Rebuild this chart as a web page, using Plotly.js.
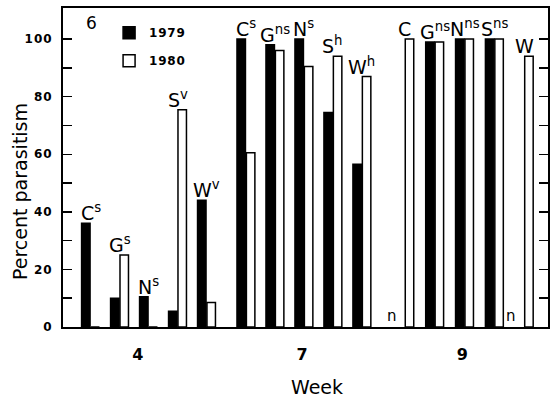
<!DOCTYPE html>
<html>
<head>
<meta charset="utf-8">
<script src="https://cdn.plot.ly/plotly-3.0.1.min.js"></script>
<style>
html,body{margin:0;padding:0;background:#fff;}
#chart{width:551px;height:400px;}
#chart .ytick text{letter-spacing:1px;}
#chart .xtick text{letter-spacing:1px;}
#chart .legendtext{letter-spacing:0.8px;}
</style>
</head>
<body>
<div id="chart"></div>
<script>
// ---- data ----
const weeks = ['4', '7', '9'];
const treatmentLetters = [
  ['C', 'G', 'N', 'S', 'W'],
  ['C', 'G', 'N', 'S', 'W'],
  ['C', 'G', 'N', 'S', 'W']
];
const treatmentSups = [
  ['s', 's', 's', 'v', 'v'],
  ['s', 'ns', 's', 'h', 'h'],
  ['', 'ns', 'ns', 'ns', '']
];
const pct1979 = [
  [36, 10, 10.5, 5.5, 44],
  [100, 98, 100, 74.5, 56.5],
  [null, 99, 100, 100, null]
];
const pct1980 = [
  [0, 25, 0, 75.5, 8.5],
  [60.5, 96, 90.5, 94, 87],
  [100, 99, 100, 100, 94]
];
const seriesNames = ['1979', '1980'];
const panelLabel = '6';
const missingMark = 'n';
const xTitle = 'Week';
const yTitle = 'Percent parasitism';
const yMajorTicks = [0, 20, 40, 60, 80, 100];
const yMinorTicks = [10, 30, 50, 70, 90];

// ---- layout helpers (positions, not data) ----
const weekStart = [0, 5.36, 10.84];
const weekStep = [1, 1, 1.03];
const weekTickOffset = [1.65, 1.95, 2.0];
const missingOffset = 0.45;

const xs = [], y79 = [], y80 = [], annotations = [];
const FONT = 'DejaVu Sans, Arial, sans-serif';
weeks.forEach((w, wi) => {
  treatmentLetters[wi].forEach((L, ti) => {
    const x = weekStart[wi] + ti * weekStep[wi];
    xs.push(x);
    const a = pct1979[wi][ti], b = pct1980[wi][ti];
    y79.push(a); y80.push(b);
    const top = Math.max(a == null ? 0 : a, b == null ? 0 : b);
    const sup = treatmentSups[wi][ti];
    annotations.push({
      x: x, y: top, xref: 'x', yref: 'y', xanchor: 'center', yanchor: 'bottom',
      text: L + (sup ? '<sup>' + sup + '</sup>' : ''), showarrow: false,
      font: {family: FONT, size: 19, color: '#000'}, yshift: -3
    });
    if (a == null) annotations.push({
      x: x - missingOffset, y: 0, xref: 'x', yref: 'y', xanchor: 'center', yanchor: 'bottom',
      text: missingMark, showarrow: false, font: {family: FONT, size: 15, color: '#000'}
    });
    if (b == null) annotations.push({
      x: x + missingOffset, y: 0, xref: 'x', yref: 'y', xanchor: 'center', yanchor: 'bottom',
      text: missingMark, showarrow: false, font: {family: FONT, size: 15, color: '#000'}
    });
  });
});
annotations.push({
  x: 0.059, y: 0.953, xref: 'paper', yref: 'paper', xanchor: 'center', yanchor: 'middle',
  text: panelLabel, showarrow: false, font: {family: FONT, size: 17, color: '#000'}
});
// axis titles placed where the reference has them
annotations.push({
  x: 0.5237, y: -0.188, xref: 'paper', yref: 'paper', xanchor: 'center', yanchor: 'middle',
  text: xTitle, showarrow: false, font: {family: FONT, size: 19, color: '#000'}
});
annotations.push({
  x: -0.0887, y: 0.4263, xref: 'paper', yref: 'paper', xanchor: 'center', yanchor: 'middle',
  text: yTitle, textangle: -90, showarrow: false, font: {family: FONT, size: 19, color: '#000'}
});

const tickvalsX = weeks.map((w, i) => weekStart[i] + weekTickOffset[i]);

const traces = [
  {type: 'bar', name: seriesNames[0], x: xs, y: y79, legendgroup: 'a',
   marker: {color: '#000', line: {color: '#000', width: 1.5}}, hoverinfo: 'skip'},
  {type: 'bar', name: seriesNames[1], x: xs, y: y80, legendgroup: 'b',
   marker: {color: '#fff', line: {color: '#000', width: 1.5}}, hoverinfo: 'skip'}
];

const layout = {
  width: 551, height: 400,
  margin: {l: 63, r: 3, t: 8, b: 73},
  paper_bgcolor: '#fff', plot_bgcolor: '#fff',
  font: {family: FONT, color: '#000'},
  barmode: 'group', bargap: 0.35, bargroupgap: 0.1,
  showlegend: true,
  legend: {x: 0.095, y: 0.968, xanchor: 'left', yanchor: 'top', bgcolor: 'rgba(0,0,0,0)',
           font: {family: FONT, size: 12, weight: 'bold', color: '#000'}, tracegroupgap: 9,
           traceorder: 'grouped'},
  xaxis: {
    range: [-0.95, 15.78], showgrid: false, zeroline: false,
    showline: true, linecolor: '#000', linewidth: 2, mirror: true,
    ticks: '', tickvals: tickvalsX, ticktext: weeks, ticklabelstandoff: 12,
    tickfont: {family: FONT, size: 16, weight: 'bold', color: '#000'}
  },
  yaxis: {
    range: [0, 110.8], showgrid: false, zeroline: false,
    showline: true, linecolor: '#000', linewidth: 2, mirror: 'ticks',
    ticks: 'inside', ticklen: 9, tickwidth: 1.5, tickcolor: '#000',
    tickvals: yMajorTicks, ticklabelstandoff: 6,
    tickfont: {family: FONT, size: 12, weight: 'bold', color: '#000'},
    minor: {tickvals: yMinorTicks, ticks: 'inside', ticklen: 9, tickwidth: 1.5, tickcolor: '#000', showgrid: false}
  },
  annotations: annotations
};

Plotly.newPlot('chart', traces, layout, {staticPlot: true, displayModeBar: false});
</script>
</body>
</html>
